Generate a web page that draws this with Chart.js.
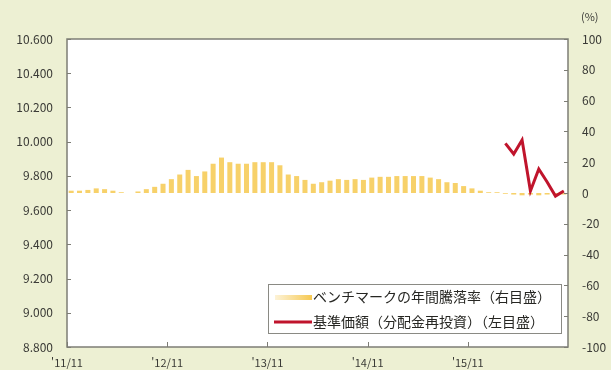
<!DOCTYPE html>
<html lang="ja">
<head>
<meta charset="utf-8">
<title>基準価額とベンチマーク</title>
<script src="https://cdn.jsdelivr.net/npm/chart.js@4.4.1/dist/chart.umd.min.js"></script>
<style>
    html, body { margin: 0; padding: 0; background: #edf0d3; }
    #wrap { width: 611px; height: 370px; }
</style>
</head>
<body>
<div id="wrap"><canvas id="navChart" width="611" height="370"></canvas></div>
<script>
// 月次（2011/11〜2016/10）
const months = [
    '2011/11','2011/12','2012/01','2012/02','2012/03','2012/04','2012/05','2012/06','2012/07','2012/08','2012/09','2012/10',
    '2012/11','2012/12','2013/01','2013/02','2013/03','2013/04','2013/05','2013/06','2013/07','2013/08','2013/09','2013/10',
    '2013/11','2013/12','2014/01','2014/02','2014/03','2014/04','2014/05','2014/06','2014/07','2014/08','2014/09','2014/10',
    '2014/11','2014/12','2015/01','2015/02','2015/03','2015/04','2015/05','2015/06','2015/07','2015/08','2015/09','2015/10',
    '2015/11','2015/12','2016/01','2016/02','2016/03','2016/04','2016/05','2016/06','2016/07','2016/08','2016/09','2016/10'
];

// ベンチマークの年間騰落率（%）
const benchmarkReturns = [
    1.5, 1.5, 2, 3, 2.5, 1.5, 0.5, 0, 1, 2.5, 4, 6,
    9, 12, 15, 11, 14, 19, 23, 20, 19, 19, 20, 20,
    20, 18, 12, 11, 8.5, 6, 7, 8, 9, 8.5, 9, 8.5,
    10, 10.5, 10.5, 11, 11, 11, 11, 10, 9, 7, 6.5, 4.5,
    3, 1.5, 0.5, 0.5, -0.5, -1, -1.5, -1, -1.5, -1, -1.5, -1
];

// 基準価額（分配金再投資）：2016/03 から
const navStart = '2016/03';
const navValues = [9990, 9928, 10010, 9712, 9840, 9764, 9682, 9712];

// 目盛
const xTickLabels = ["'11/11", "'12/11", "'13/11", "'14/11", "'15/11", ''];
const leftRange = { min: 8800, max: 10600, step: 200 };
const rightRange = { min: -100, max: 100, step: 20 };

const fontFamily = "'Noto Sans CJK JP', 'Liberation Sans', sans-serif";
const axisFont = { family: fontFamily, size: 12 };
const dateFont = { family: fontFamily, size: 11 };
const textColor = '#3a3a36';

const navOffset = months.indexOf(navStart);
const barData = benchmarkReturns.map((v, i) => ({ x: i + 0.5, y: v }));
const lineData = navValues.map((v, i) => ({ x: navOffset + i + 0.5, y: v }));

function formatYen(v) {
    const th = Math.floor(v / 1000);
    const rest = String(v % 1000).padStart(3, '0');
    return th + '.' + rest;
}

// 背景・枠線・内向き目盛・凡例
const framePlugin = {
    id: 'frame',
    beforeDraw(chart) {
        const { ctx, chartArea: a } = chart;
        ctx.save();
        ctx.fillStyle = '#edf0d3';
        ctx.fillRect(0, 0, chart.width, chart.height);
        ctx.fillStyle = '#ffffff';
        ctx.fillRect(a.left, a.top, a.right - a.left, a.bottom - a.top);
        ctx.restore();
    },
    afterDraw(chart) {
        const { ctx, chartArea: a, scales } = chart;
        ctx.save();
        ctx.strokeStyle = '#7d7d75';
        ctx.lineWidth = 1.5;
        ctx.strokeRect(a.left, a.top, a.right - a.left, a.bottom - a.top);

        ctx.lineWidth = 1;
        ctx.beginPath();
        scales.yL.ticks.forEach(t => {
            const y = Math.round(scales.yL.getPixelForValue(t.value)) + 0.5;
            ctx.moveTo(a.left, y); ctx.lineTo(a.left + 4, y);
        });
        scales.yR.ticks.forEach(t => {
            const y = Math.round(scales.yR.getPixelForValue(t.value)) + 0.5;
            ctx.moveTo(a.right, y); ctx.lineTo(a.right - 4, y);
        });
        scales.x.ticks.forEach(t => {
            const x = Math.round(scales.x.getPixelForValue(t.value)) + 0.5;
            ctx.moveTo(x, a.bottom); ctx.lineTo(x, a.bottom - 5);
        });
        ctx.stroke();

        // (%)
        ctx.fillStyle = textColor;
        ctx.font = '11px ' + fontFamily;
        ctx.textAlign = 'left';
        ctx.textBaseline = 'middle';
        ctx.fillText('(%)', 581, 17);

        // 凡例
        const bx = 268, by = 284, bw = 293, bh = 49;
        ctx.fillStyle = '#ffffff';
        ctx.fillRect(bx, by, bw, bh);
        ctx.strokeStyle = '#8a8a84';
        ctx.lineWidth = 1;
        ctx.strokeRect(bx + 0.5, by + 0.5, bw, bh);

        const grad = ctx.createLinearGradient(275, 0, 312, 0);
        grad.addColorStop(0, 'rgba(246, 205, 94, 0.25)');
        grad.addColorStop(1, 'rgba(246, 200, 80, 1)');
        ctx.fillStyle = grad;
        ctx.fillRect(275, 295, 37, 5);

        ctx.strokeStyle = '#c0142c';
        ctx.lineWidth = 3;
        ctx.beginPath();
        ctx.moveTo(274, 322); ctx.lineTo(312, 322);
        ctx.stroke();

        ctx.fillStyle = '#262622';
        ctx.font = '14px ' + fontFamily;
        ctx.fillText('ベンチマークの年間騰落率（右目盛）', 313, 297);
        ctx.fillText('基準価額（分配金再投資）（左目盛）', 313, 322);
        ctx.restore();
    }
};

new Chart(document.getElementById('navChart'), {
    type: 'bar',
    data: {
        datasets: [
            {
                type: 'line',
                label: '基準価額（分配金再投資）（左目盛）',
                data: lineData,
                yAxisID: 'yL',
                borderColor: '#c0142c',
                borderWidth: 3,
                pointRadius: 0,
                tension: 0,
                order: 0
            },
            {
                type: 'bar',
                label: 'ベンチマークの年間騰落率（右目盛）',
                data: barData,
                yAxisID: 'yR',
                backgroundColor: 'rgba(246, 204, 90, 0.9)',
                barPercentage: 0.6,
                categoryPercentage: 1,
                order: 1
            }
        ]
    },
    options: {
        responsive: false,
        animation: false,
        layout: { padding: { top: 39, left: 0, right: 0, bottom: 0 } },
        plugins: {
            legend: { display: false },
            tooltip: { enabled: false }
        },
        scales: {
            x: {
                type: 'linear',
                offset: false,
                min: 0,
                max: months.length,
                grid: { display: false, drawTicks: false, offset: false },
                border: { display: false },
                afterFit: s => { s.height = 23; },
                afterBuildTicks: s => {
                    s.ticks = [0, 12, 24, 36, 48].map(v => ({ value: v }));
                },
                ticks: {
                    padding: 9,
                    color: textColor,
                    font: dateFont,
                    maxRotation: 0,
                    autoSkip: false,
                    callback: v => xTickLabels[v / 12]
                }
            },
            yL: {
                position: 'left',
                min: leftRange.min,
                max: leftRange.max,
                grid: { display: false, drawTicks: false },
                border: { display: false },
                afterFit: s => { s.width = 67; },
                ticks: {
                    stepSize: leftRange.step,
                    padding: 14,
                    color: textColor,
                    font: axisFont,
                    callback: v => formatYen(v)
                }
            },
            yR: {
                position: 'right',
                min: rightRange.min,
                max: rightRange.max,
                grid: { display: false, drawTicks: false },
                border: { display: false },
                afterFit: s => { s.width = 43; },
                ticks: {
                    stepSize: rightRange.step,
                    padding: 14,
                    color: textColor,
                    font: axisFont
                }
            }
        }
    },
    plugins: [framePlugin]
});
</script>
</body>
</html>
